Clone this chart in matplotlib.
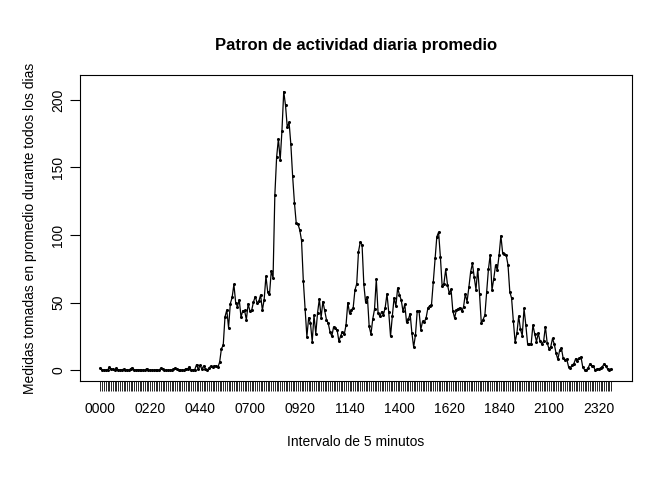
import matplotlib
matplotlib.use("Agg")
import matplotlib.pyplot as plt
import numpy as np

steps = [1.717,0.340,0.132,0.151,0.075,2.094,0.528,0.868,0,1.472,0.302,0.132,0.321,0.679,0.151,0.340,0,1.113,1.830,0.170,0.170,0.377,0.264,0,0,0,1.132,0,0,0.132,0,0.226,0,0,1.547,0.943,0,0,0,0,0.208,0.623,1.623,0.585,0.491,0.075,0,0,1.189,0.943,2.566,0,0.340,0.358,4.113,0.660,3.491,0.830,3.113,1.113,0,1.566,3.0,2.245,3.321,2.962,2.094,6.057,16.019,18.340,39.453,44.491,31.491,49.264,53.774,63.453,49.962,47.075,52.151,39.340,44.019,44.170,37.358,49.038,43.811,44.377,50.509,54.509,49.925,50.981,55.679,44.321,52.264,69.547,57.849,56.151,73.377,68.208,129.434,157.528,171.151,155.396,177.302,206.170,195.925,179.566,183.396,167.019,143.453,124.038,109.113,108.113,103.717,95.962,66.208,45.226,24.792,38.755,34.981,21.057,40.566,26.981,42.415,52.660,38.925,50.792,44.283,37.415,34.698,28.340,25.094,31.943,31.358,29.679,21.321,25.547,28.377,26.472,33.434,49.981,42.038,44.604,46.038,59.189,63.868,87.698,94.849,92.774,63.396,50.170,54.472,32.415,26.528,37.736,45.057,67.283,42.340,39.887,43.264,40.981,46.245,56.434,42.755,25.132,39.962,53.547,47.321,60.811,55.755,51.962,43.585,48.698,35.472,37.547,41.849,27.509,17.113,26.075,43.623,43.774,30.019,36.075,35.491,38.849,45.962,47.755,48.132,65.321,82.906,98.660,102.113,83.962,62.132,64.132,74.547,63.170,56.906,59.774,43.868,38.566,44.660,45.453,46.208,43.679,46.623,56.302,50.717,61.226,72.717,78.943,68.943,59.660,75.094,56.509,34.774,37.453,40.679,58.019,74.698,85.321,59.264,67.774,77.698,74.245,85.340,99.453,86.585,85.604,84.868,77.830,58.038,53.358,36.321,20.717,27.396,40.019,30.208,25.547,45.660,33.528,19.623,19.019,19.340,33.340,26.811,21.170,27.302,21.340,19.547,21.321,32.302,20.151,15.943,17.226,23.453,19.245,12.453,8.019,14.660,16.302,8.679,7.792,8.132,2.623,1.453,3.679,4.811,8.509,7.075,8.698,9.755,2.208,0.321,0.113,1.604,4.604,3.302,2.849,0,0.830,0.962,1.585,2.604,4.698,3.302,0.642,0.226,1.075]

intervals = [f"{h:02d}{m:02d}" for h in range(24) for m in range(0, 60, 5)][:len(steps)]

plt.rcParams['font.family'] = ['Liberation Sans', 'DejaVu Sans']
fig = plt.figure(figsize=(6.72, 4.8), dpi=100)
ax = fig.add_axes([0.119, 0.206, 0.821, 0.638])
x = np.arange(1, len(steps) + 1)
ax.plot(x, steps, color='black', lw=0.9, marker='o', ms=1.2)
n = len(steps)
ax.set_xlim(1 - 0.04 * (n - 1), n + 0.04 * (n - 1))
ax.set_ylim(-8.1, 218.5)
ax.set_xticks(x)
ax.set_xticklabels([lab if (i % 28 == 0) else "" for i, lab in enumerate(intervals)], fontsize=10)
ax.tick_params(axis='x', length=7, width=0.6, pad=8)
ax.set_yticks([0, 50, 100, 150, 200])
ax.set_yticklabels(['0', '50', '100', '150', '200'], rotation=90, va='center', fontsize=10)
ax.tick_params(axis='y', length=7, width=0.8)
for s in ['left', 'bottom']:
    ax.spines[s].set_visible(False)
ax.spines['top'].set_visible(True)
ax.spines['right'].set_visible(True)
# keep box like R
for s in ax.spines.values():
    s.set_visible(True); s.set_linewidth(0.8)
ax.set_title('Patron de actividad diaria promedio', fontsize=12, fontweight='bold', pad=18)
ax.set_xlabel('Intervalo de 5 minutos', fontsize=10, labelpad=14)
ax.set_ylabel('Medidas tomadas en promedio durante todos los dias', fontsize=10, labelpad=10)
fig.savefig('out.png', dpi=100)
print(len(steps))
